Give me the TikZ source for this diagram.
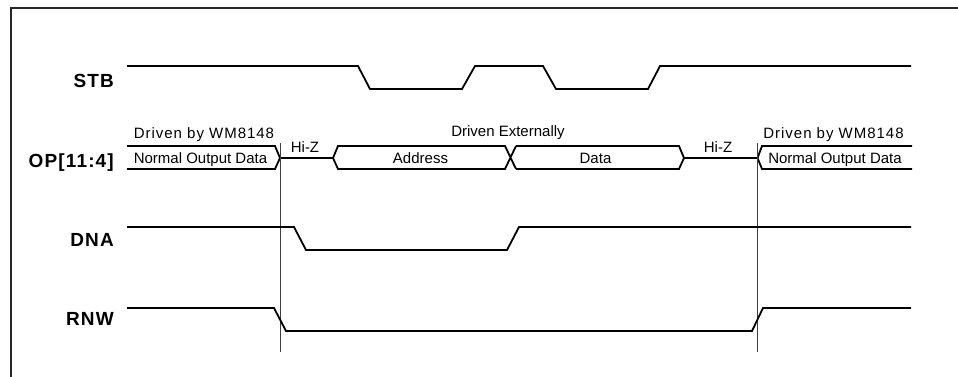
\documentclass[tikz,border=0pt]{standalone}
\usepackage{fontspec}
\setmainfont{Liberation Sans}
\newfontfamily\sigfont[LetterSpace=6]{Liberation Sans}
\newfontfamily\drvfont[LetterSpace=6.5]{Liberation Sans}
\begin{document}
\begin{tikzpicture}[x=1pt,y=-1pt,
  wave/.style={line width=1.8pt,line join=miter},
  frameline/.style={line width=2pt,black!85},
  marker/.style={line width=0.8pt,black!75},
  siglabel/.style={anchor=base east,inner sep=0pt,font=\fontsize{19}{19}\sigfont\bfseries},
  small/.style={anchor=base,inner sep=0pt,font=\fontsize{15}{15}\selectfont},
  drvlabel/.style={anchor=base,inner sep=0pt,font=\fontsize{15}{15}\drvfont}]
\useasboundingbox (0,0) rectangle (958,377);
% frame
\draw[frameline] (11,378) -- (11,8) -- (959,8);
% signal names
\node[siglabel] (stb) at (114,87.7) {STB};
\node[siglabel] (op) at (114,167.7) {OP[11:4]};
\node[siglabel] (dna) at (114,246.7) {DNA};
\node[siglabel] (rnw) at (114,325.7) {RNW};
% STB
\draw[wave] (127,66) -- (358,66) -- (370,89) -- (462,89) -- (475,66) -- (543,66) -- (556,89) -- (648,89) -- (660,66) -- (911,66);
% OP bus
\draw[wave] (127,146) -- (275,146) -- (280,158) -- (275,169) -- (127,169);
\draw[wave] (280,158) -- (333,158);
\draw[wave] (516,169) -- (505,146) -- (338,146) -- (333,158) -- (338,169) -- (505,169) -- (516,146);
\draw[wave] (516,146) -- (679,146) -- (684,158) -- (679,169) -- (516,169);
\draw[wave] (684,158) -- (757.5,158);
\draw[wave] (912,146) -- (762,146) -- (757.5,158) -- (762,169) -- (912,169);
% markers
\draw[marker] (280,143) -- (280,352);
\draw[marker] (757.5,143) -- (757.5,352);
% DNA
\draw[wave] (127,227) -- (294,227) -- (306,250) -- (507,250) -- (519,227) -- (911,227);
% RNW
\draw[wave] (127,308) -- (274,308) -- (286,331) -- (752,331) -- (763,308) -- (911,308);
% bus labels
\node[drvlabel] (drv1) at (204,139) {Driven by WM8148};
\node[small] (nod1) at (200.5,163) {Normal Output Data};
\node[small] (hiz1) at (305,153) {Hi-Z};
\node[small] (drvx) at (508,136) {Driven Externally};
\node[small] (addr) at (420.5,164) {Address};
\node[small] (data) at (595.5,164) {Data};
\node[small] (hiz2) at (718,152) {Hi-Z};
\node[drvlabel] (drv2) at (833.5,139) {Driven by WM8148};
\node[small] (nod2) at (835,163) {Normal Output Data};
\end{tikzpicture}
\end{document}
